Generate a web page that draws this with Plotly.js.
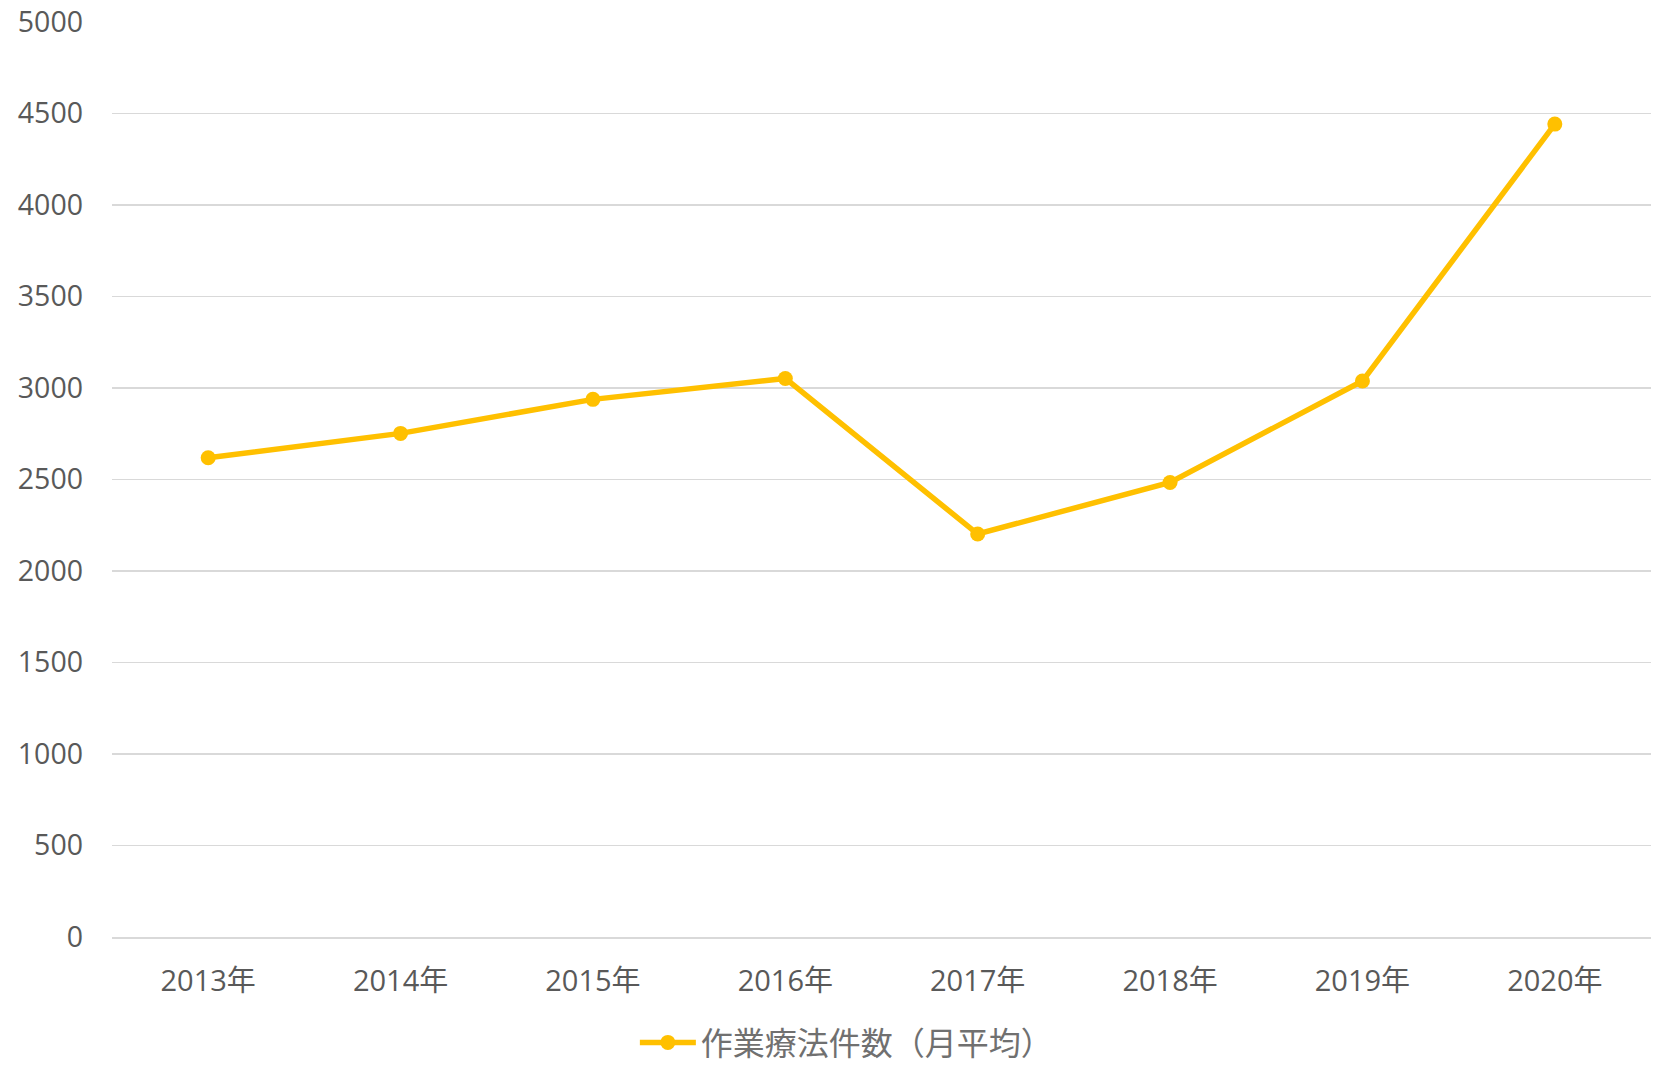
<!DOCTYPE html>
<html>
<head>
<meta charset="utf-8">
<script src="https://cdn.plot.ly/plotly-3.0.1.min.js"></script>
<style>
  html, body { margin: 0; padding: 0; background: #fff; }
  #chart { width: 1661px; height: 1067px; }
</style>
</head>
<body>
<div id="chart"></div>
<script>
const categories = ["2013年", "2014年", "2015年", "2016年", "2017年", "2018年", "2019年", "2020年"];
const seriesName = "作業療法件数（月平均）";
const values = [2619, 2752, 2938, 3052, 2202, 2484, 3038, 4442];
const yTicks = [0, 500, 1000, 1500, 2000, 2500, 3000, 3500, 4000, 4500, 5000];

const trace = {
  type: "scatter",
  mode: "lines+markers",
  x: categories,
  y: values,
  name: seriesName,
  line: { color: "#FFC000", width: 5.5 },
  marker: { color: "#FFC000", size: 15 },
  showlegend: true
};

const layout = {
  width: 1661,
  height: 1067,
  margin: { l: 112, r: 10, t: 22, b: 130, autoexpand: false },
  paper_bgcolor: "#ffffff",
  plot_bgcolor: "#ffffff",
  font: { family: "Open Sans, Noto Sans CJK JP, sans-serif", color: "#595959", size: 28 },
  xaxis: {
    type: "category",
    range: [-0.5, 7.5],
    showgrid: false,
    showline: true,
    linecolor: "#D9D9D9",
    linewidth: 1.5,
    ticks: "",
    ticklabelstandoff: 18,
    tickfont: { size: 29, color: "#595959", family: "Open Sans, Noto Sans CJK JP, sans-serif" },
    fixedrange: true
  },
  yaxis: {
    range: [0, 5000],
    tickvals: yTicks,
    ticktext: yTicks.map(String),
    showgrid: true,
    gridcolor: "#D9D9D9",
    gridwidth: 1.5,
    zeroline: false,
    showline: false,
    ticks: "",
    ticklabelstandoff: 28,
    tickfont: { size: 28.5, color: "#595959", family: "Open Sans, sans-serif" },
    fixedrange: true
  },
  showlegend: true,
  legend: {
    orientation: "h",
    x: 0.4775,
    xanchor: "center",
    y: -0.1154,
    yanchor: "middle",
    itemwidth: 56,
    font: { size: 32, color: "#707070", family: "Noto Sans CJK JP, sans-serif" },
    bgcolor: "rgba(0,0,0,0)"
  }
};

Plotly.newPlot("chart", [trace], layout, { displayModeBar: false, staticPlot: true });
</script>
</body>
</html>
